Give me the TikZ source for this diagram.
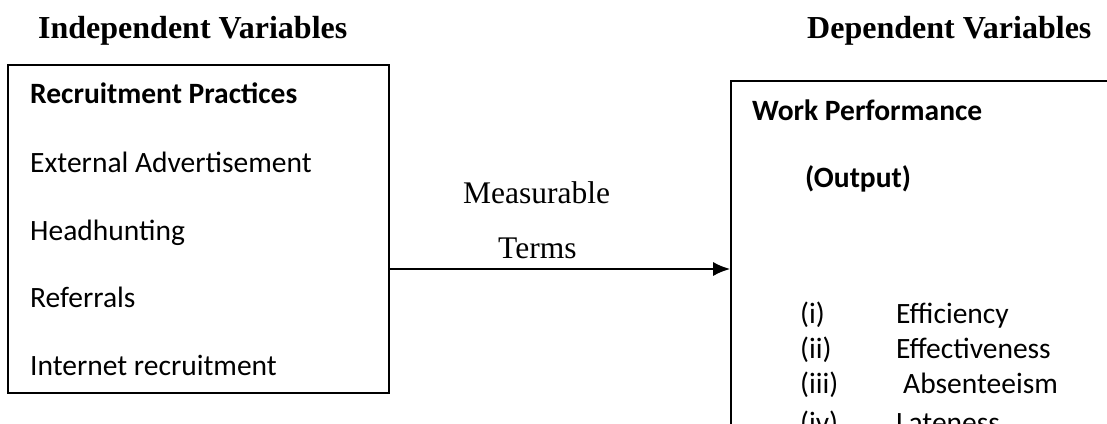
\documentclass[tikz,border=0pt]{standalone}
\usepackage{fontspec}
\setmainfont{Liberation Serif}
\newfontfamily\calfont{Carlito}
\usetikzlibrary{arrows.meta}
\tikzset{
  boxframe/.style={draw=black, line width=1.6pt, inner sep=0pt, fill=none},
  heading/.style={anchor=base west, inner sep=0pt, font=\fontsize{32}{38}\selectfont\bfseries},
  termtext/.style={anchor=base west, inner sep=0pt, font=\fontsize{31.5}{37}\selectfont},
  boxtitle/.style={anchor=base west, inner sep=0pt, font=\calfont\fontsize{29.5}{35}\selectfont\bfseries},
  boxitem/.style={anchor=base west, inner sep=0pt, font=\calfont\fontsize{29.5}{35}\selectfont},
  flow/.style={line width=2pt, -{Latex[length=17pt,width=14pt]}}
}
\begin{document}
\begin{tikzpicture}[x=1pt, y=-1pt]
\useasboundingbox (0,0) rectangle (1107,423);
\clip (0,0) rectangle (1107,423);
% headings
\node[heading] (hind) at (38,38) {Independent Variables};
\node[heading] (hdep) at (807,38) {Dependent Variables};
% left box
\node[boxframe, minimum width=381pt, minimum height=328pt] (lbox) at (198.5,229) {};
\node[boxtitle] (rp) at (30,103) {Recruitment Practices};
\node[boxitem] (ea) at (30,172) {External Advertisement};
\node[boxitem] (hh) at (30,240) {Headhunting};
\node[boxitem] (rf) at (30,307) {Referrals};
\node[boxitem] (ir) at (30,375) {Internet recruitment};
% right box
\node[boxframe, minimum width=400pt, minimum height=380pt] (rbox) at (931,271) {};
\node[boxtitle] (wp) at (752,120) {Work Performance};
\node[boxtitle] (op) at (805,187) {(Output)};
\node[boxitem] (n1) at (800,323) {(i)};
\node[boxitem] (t1) at (896,323) {Efficiency};
\node[boxitem] (n2) at (800,358) {(ii)};
\node[boxitem] (t2) at (896,358) {Effectiveness};
\node[boxitem] (n3) at (800,393) {(iii)};
\node[boxitem] (t3) at (903,393) {Absenteeism};
\node[boxitem] (n4) at (800,432) {(iv)};
\node[boxitem] (t4) at (896,432) {Lateness};
% connector
\coordinate (ay) at (0,269);
\draw[flow] (lbox.east |- ay) -- (rbox.west |- ay);
\node[termtext] (ms) at (463,203) {Measurable};
\node[termtext] (tm) at (498,258) {Terms};
\end{tikzpicture}
\end{document}
